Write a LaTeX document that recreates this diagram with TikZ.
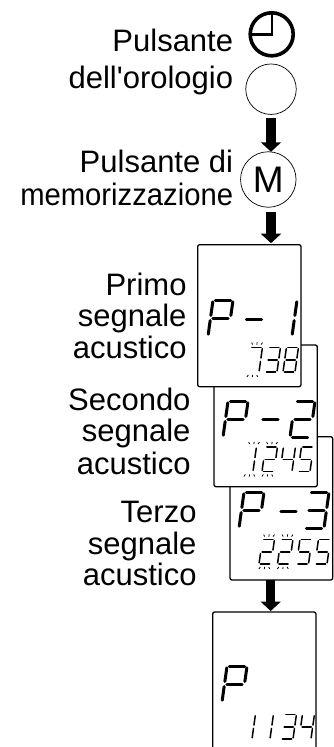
\documentclass[tikz,border=0pt]{standalone}
\usepackage{graphicx}
\usepackage{fontspec}
\setmainfont{Liberation Sans}
\usetikzlibrary{arrows.meta}
\tikzset{
	lcdpanel/.style={draw,fill=white,rounded corners=2pt,line width=1.3pt,inner sep=0pt,outer sep=0pt},
	knob/.style={draw,circle,fill=white,inner sep=0pt,outer sep=0pt,line width=.7pt},
	fatarrow/.style={-{Triangle[width=20pt,length=9.5pt]},line width=9.5pt},
	lab/.style={anchor=base east,inner sep=0pt,font=\fontsize{31pt}{32pt}\selectfont},
	bigseg/.style={line width=3pt,line cap=round},
	smallseg/.style={line width=1.5pt,line cap=round},
	ray/.style={line width=.8pt}
}
% the seven segments, unit box
\def\sega{(.12,1)--(.88,1)}
\def\segb{(1,.95)--(1,.57)}
\def\segc{(1,.43)--(1,.05)}
\def\segd{(.12,0)--(.88,0)}
\def\sege{(0,.43)--(0,.05)}
\def\segf{(0,.95)--(0,.57)}
\def\segg{(.12,.5)--(.88,.5)}
\newcommand{\bigdigit}[3]{%
	\begin{scope}[shift={(#1,#2)},xslant=.14,x=20pt,y=36pt]
		\foreach \s in {#3} \draw[bigseg] \csname seg\s\endcsname;
	\end{scope}}
\newcommand{\smalldigit}[3]{%
	\begin{scope}[shift={(#1,#2)},xslant=.14,x=12pt,y=24.5pt]
		\foreach \s in {#3} \draw[smallseg] \csname seg\s\endcsname;
	\end{scope}}
\newcommand{\blinkrays}[2]{%
	\begin{scope}[shift={(#1,#2)},xslant=.14,x=12pt,y=24.5pt]
		\draw[ray] (.05,1.2)--(.15,1.12) (.5,1.21)--(.5,1.12) (.95,1.2)--(.85,1.12);
		\draw[ray] (.05,-.2)--(.15,-.12) (.5,-.21)--(.5,-.12) (.95,-.2)--(.85,-.12);
	\end{scope}}
\begin{document}
\begin{tikzpicture}[x=1pt,y=-1pt]
	\useasboundingbox (0,0) rectangle (334,747);
	% labels
	\node[lab] (puls) at (233.3,51.7) {Pulsante};
	\node[lab] (oro) at (233.3,88.3) {dell\textquotesingle orologio};
	\node[lab] (pulsdi) at (233.3,172.7) {Pulsante di};
	\node[lab] (memo) at (233.3,205) {\scalebox{.943}[1]{memorizzazione}};
	\node[lab] (prim) at (186.7,295) {Primo};
	\node[lab] (seg1) at (186.7,326.7) {segnale};
	\node[lab] (acu1) at (186.7,358.3) {acustico};
	\node[lab] (sec) at (190.7,410) {Secondo};
	\node[lab] (seg2) at (190.7,441.7) {segnale};
	\node[lab] (acu2) at (190.7,474.3) {acustico};
	\node[lab] (ter) at (196.7,522.3) {Terzo};
	\node[lab] (seg3) at (196.7,554.3) {segnale};
	\node[lab] (acu3) at (196.7,585.7) {acustico};
	% buttons
	\node[knob,line width=3.6pt,minimum size=43pt] (clock) at (271.7,34.3) {};
	\draw[line width=2.4pt] (clock.north)--(clock.center)--(clock.west);
	\node[knob,minimum size=50.5pt] (blank) at (271,89.2) {};
	\node[knob,minimum size=55.5pt,font=\fontsize{37pt}{37pt}\selectfont] (mem) at (268.3,179.5) {M};
	% panels, last one first
	\node[lcdpanel,minimum width=102.7pt,minimum height=143.3pt] (terzo) at (281.35,508.35) {};
	\node[lcdpanel,minimum width=103.3pt,minimum height=141.7pt] (secondo) at (265.65,415.85) {};
	\node[lcdpanel,minimum width=103.3pt,minimum height=142pt] (primo) at (249.35,315.7) {};
	\node[lcdpanel,minimum width=103.3pt,minimum height=150pt] (finale) at (264.35,687) {};
	\coordinate (out3) at (270.7,580);
	% arrows
	\draw[fatarrow,shorten <=4pt] (blank.south)--(blank.south|-mem.north);
	\draw[fatarrow,shorten <=4.5pt,shorten >=1.5pt] (blank.south|-mem.south)--(blank.south|-primo.north);
	\draw[fatarrow,shorten >=1pt] (out3)--(out3|-finale.north);
	% P-1 738
	\bigdigit{208}{336}{a,b,e,f,g}
	\bigdigit{241.5}{337}{g}
	\bigdigit{272}{336}{b,c}
	\smalldigit{247}{372}{a,b,c}
	\blinkrays{247}{372}
	\smalldigit{265}{372}{a,b,c,d,g}
	\smalldigit{283}{372}{a,b,c,d,e,f,g}
	% P-2 1245
	\bigdigit{223}{437}{a,b,e,f,g}
	\bigdigit{258}{437}{g}
	\bigdigit{290}{437}{a,b,g,e,d}
	\smalldigit{241}{471.5}{b,c}
	\blinkrays{244}{471.5}
	\smalldigit{262}{471.5}{a,b,g,e,d}
	\blinkrays{262}{471.5}
	\smalldigit{280}{471.5}{f,g,b,c}
	\smalldigit{298}{471.5}{a,f,g,c,d}
	% P-3 2255
	\bigdigit{239}{528}{a,b,e,f,g}
	\bigdigit{276}{529}{g}
	\bigdigit{304}{528}{a,b,c,d,g}
	\smalldigit{259}{564}{a,b,g,e,d}
	\blinkrays{259}{564}
	\smalldigit{277.5}{564}{a,b,g,e,d}
	\blinkrays{277.5}{564}
	\smalldigit{296.5}{564}{a,f,g,c,d}
	\smalldigit{315}{564}{a,f,g,c,d}
	% P 1134
	\bigdigit{222}{702}{a,b,e,f,g}
	\smalldigit{240}{739}{b,c}
	\smalldigit{258}{739}{b,c}
	\smalldigit{281}{739}{a,b,c,d,g}
	\smalldigit{299}{739}{f,g,b,c}
\end{tikzpicture}
\end{document}
